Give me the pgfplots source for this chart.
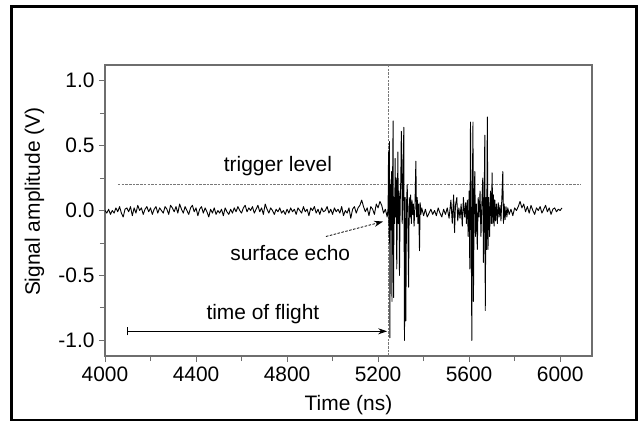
\documentclass[border=0pt]{standalone}
\usepackage{fontspec}
\setmainfont{Liberation Sans}
\usepackage{pgfplots}
\pgfplotsset{compat=1.18}
\usetikzlibrary{arrows.meta}
\definecolor{axgray}{RGB}{110,110,110}
\definecolor{dashgray}{RGB}{120,120,120}
\begin{document}
\begin{tikzpicture}
\path[use as bounding box] (-105bp,-65bp) rectangle (534bp,356bp);
\draw[line width=3bp,black] (-93.5bp,349bp) rectangle (531bp,-64bp);
\begin{axis}[
  at={(0bp,0bp)}, anchor=south west,
  scale only axis, width=487bp, height=291bp,
  xmin=4000, xmax=6140, ymin=-1.12, ymax=1.12,
  xtick={4000,4400,4800,5200,5600,6000},
  minor xtick={4200,4600,5000,5400,5800},
  ytick={-1,-0.5,0,0.5,1},
  minor ytick={-0.75,-0.25,0.25,0.75},
  tick align=outside, xtick pos=bottom, ytick pos=left,
  major tick length=6bp, minor tick length=5bp,
  axis line style={draw=axgray, line width=1.1bp},
  every tick/.style={draw=axgray, line width=0.9bp},
  scaled x ticks=false,
  xticklabel style={/pgf/number format/1000 sep={}},
  yticklabel style={/pgf/number format/.cd, fixed, fixed zerofill, precision=1},
  /pgf/number format/assume math mode=true,
  tick label style={font=\fontsize{21}{25}\selectfont, text=black},
  xlabel={Time (ns)},
  ylabel={Signal amplitude (V)},
  every axis x label/.style={at={(axis description cs:0.5,-0.168)}, anchor=center, font=\fontsize{21}{25}\selectfont},
  every axis y label/.style={at={(axis description cs:-0.145,0.53)}, anchor=center, rotate=90, font=\fontsize{21}{25}\selectfont},
  xticklabel shift=1bp, yticklabel shift=1bp,
  clip=false,
]
% trigger level
\addplot[dashgray, line width=0.9bp, dash pattern=on 2.5bp off 1.2bp] coordinates {(4057,0.2) (6092,0.2)};
% time-of-flight marker line
\addplot[dashgray, line width=0.9bp, dash pattern=on 2.5bp off 1.2bp] coordinates {(5244,-1.12) (5244,1.12)};
% signal
\addplot[black, line width=0.9bp, line join=round] table {
x y
4000 0.00
4008 -0.02
4016 0.01
4024 -0.03
4032 0.00
4040 -0.02
4048 0.02
4056 -0.01
4064 0.03
4072 -0.02
4080 -0.05
4088 0.01
4096 0.02
4104 -0.01
4112 0.03
4120 -0.04
4128 0.02
4136 -0.02
4144 0.04
4152 0.00
4160 0.02
4168 -0.03
4176 0.01
4184 0.03
4192 -0.01
4200 0.02
4208 -0.03
4216 0.01
4224 0.03
4232 -0.02
4240 0.02
4248 0.00
4256 -0.02
4264 0.03
4272 0.01
4280 -0.03
4288 0.04
4296 0.02
4304 -0.01
4312 0.03
4320 -0.02
4328 0.05
4336 0.01
4344 -0.02
4352 0.03
4360 0.00
4368 -0.03
4376 0.02
4384 0.04
4392 -0.01
4400 0.02
4408 -0.04
4416 0.01
4424 0.03
4432 -0.02
4440 0.02
4448 -0.01
4456 -0.05
4464 0.01
4472 -0.02
4480 0.02
4488 -0.03
4496 0.00
4504 -0.02
4512 0.01
4520 -0.04
4528 0.02
4536 -0.01
4544 -0.03
4552 0.01
4560 -0.02
4568 0.02
4576 -0.01
4584 0.03
4592 0.00
4600 -0.02
4608 0.02
4616 0.04
4624 -0.01
4632 0.02
4640 0.00
4648 0.03
4656 -0.02
4664 0.01
4672 0.04
4680 -0.01
4688 0.02
4696 -0.03
4704 0.05
4712 0.01
4720 -0.02
4728 0.02
4736 0.00
4744 -0.03
4752 0.01
4760 -0.01
4768 0.02
4776 -0.02
4784 0.00
4792 -0.03
4800 0.01
4808 -0.02
4816 0.02
4824 -0.01
4832 0.01
4840 -0.03
4848 0.02
4856 0.00
4864 -0.02
4872 0.03
4880 -0.01
4888 0.01
4896 -0.04
4904 0.02
4912 0.00
4920 0.03
4928 -0.02
4936 0.01
4944 -0.03
4952 0.02
4960 -0.01
4968 0.00
4976 0.03
4984 -0.02
4992 0.01
5000 -0.03
5008 0.02
5016 -0.01
5024 0.01
5032 -0.02
5040 0.03
5048 -0.04
5056 0.00
5064 -0.02
5072 0.02
5080 -0.06
5088 0.01
5096 0.03
5104 -0.02
5112 0.02
5120 0.04
5128 0.08
5136 0.03
5144 -0.01
5152 0.02
5160 -0.04
5168 0.03
5176 0.01
5184 -0.03
5192 0.05
5200 0.02
5208 0.07
5216 0.04
5224 -0.02
5232 0.01
5240 -0.05
5244 0.02
5246 0.45
5248 -0.20
5250 0.53
5252 -0.98
5254 0.20
5257 -0.15
5259 0.30
5261 -0.70
5263 0.10
5266 0.69
5268 -0.67
5270 0.10
5273 -0.10
5275 0.40
5277 -0.05
5280 0.25
5282 -0.45
5285 0.05
5287 0.45
5289 -0.10
5292 0.15
5294 -0.50
5297 0.05
5300 0.25
5302 0.61
5304 0.45
5306 -0.10
5309 0.10
5313 0.64
5316 -1.00
5319 0.10
5322 -0.85
5325 0.05
5328 0.20
5331 -0.10
5334 -0.59
5337 0.10
5340 -0.05
5343 0.12
5346 -0.10
5349 0.08
5352 -0.03
5355 0.05
5358 -0.12
5362 0.03
5366 0.38
5369 -0.05
5372 0.10
5375 -0.10
5378 0.05
5382 -0.31
5385 0.06
5388 -0.03
5392 0.02
5400 -0.04
5408 0.01
5416 -0.05
5424 -0.02
5432 0.01
5440 -0.03
5448 0.00
5456 -0.04
5464 0.02
5472 -0.02
5480 -0.05
5488 0.01
5496 -0.03
5504 0.02
5512 -0.06
5520 0.08
5526 -0.10
5532 0.12
5536 -0.17
5540 0.04
5546 0.10
5550 -0.08
5555 0.02
5560 -0.06
5565 0.05
5570 -0.12
5575 0.10
5580 -0.05
5585 0.06
5588 -0.10
5592 0.08
5596 -0.20
5600 0.15
5603 -0.45
5606 0.68
5609 -0.10
5612 -1.00
5614 0.10
5617 0.68
5619 -0.70
5622 0.05
5625 0.30
5628 -0.20
5632 0.05
5636 -0.30
5640 0.10
5644 -0.05
5648 0.15
5652 -0.20
5656 0.05
5660 0.25
5663 -0.40
5666 0.05
5669 0.58
5671 -0.77
5674 0.10
5677 -0.30
5680 0.72
5683 -0.30
5686 0.10
5690 -0.20
5694 0.15
5698 -0.10
5701 0.29
5704 -0.10
5707 0.12
5710 -0.12
5713 0.08
5716 -0.08
5720 0.05
5724 -0.10
5728 0.06
5732 -0.05
5736 0.04
5740 -0.08
5744 0.10
5748 0.30
5751 -0.10
5754 0.05
5758 -0.07
5762 0.03
5766 -0.05
5770 0.02
5776 -0.03
5784 0.01
5792 -0.04
5800 0.02
5808 0.00
5816 0.03
5824 0.07
5832 0.02
5840 0.05
5848 -0.01
5856 0.03
5864 -0.02
5872 0.04
5880 0.00
5888 -0.03
5896 0.02
5904 0.00
5912 0.03
5920 -0.02
5928 0.01
5936 0.04
5944 -0.01
5952 0.02
5960 -0.03
5968 0.01
5976 0.02
5984 -0.01
5992 0.01
6000 0.00
6008 0.02
};
% annotations
\node[font=\fontsize{21}{25}\selectfont, anchor=center] at (axis cs:4760,0.34) {trigger level};
\node[font=\fontsize{21}{25}\selectfont, anchor=center] at (axis cs:4814,-0.33) {surface echo};
\node[font=\fontsize{21}{25}\selectfont, anchor=center] at (axis cs:4694,-0.80) {time of flight};
\draw[black, line width=0.8bp, dash pattern=on 2.5bp off 1.5bp, -{Stealth[length=9bp,width=6bp]}] (axis cs:4971,-0.20) -- (axis cs:5222,-0.085);
\draw[black, line width=0.9bp, {Bar[width=8bp]}-{Stealth[length=9bp,width=6bp]}] (axis cs:4097,-0.93) -- (axis cs:5240,-0.93);
\end{axis}
\end{tikzpicture}
\end{document}
